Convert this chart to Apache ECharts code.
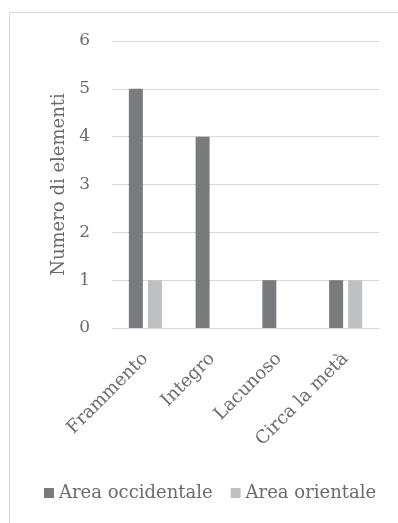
<!DOCTYPE html>
<html><head><meta charset="utf-8">
<script src="https://cdn.jsdelivr.net/npm/echarts@6/dist/echarts.min.js"></script>
<style>html,body{margin:0;padding:0;background:#fff}#c{width:398px;height:523px}</style>
</head><body><div id="c"></div>
<script>
var categories = ['Frammento', 'Integro', 'Lacunoso', 'Circa la metà'];
var seriesNames = ['Area occidentale', 'Area orientale'];
var occidentale = [5, 4, 1, 1];
var orientale = [1, 0, 0, 1];
var yTicks = [0, 1, 2, 3, 4, 5, 6];
var FONT = 'DejaVu Serif';
var TXT = '#6b6b6b';
var chart = echarts.init(document.getElementById('c'));
chart.setOption({
  animation: false,
  graphic: [{type: 'rect', shape: {x: 9.5, y: 12.5, width: 400, height: 520}, style: {fill: 'none', stroke: '#d9d9d9', lineWidth: 1}}],
  grid: {left: 112, right: 19, top: 41, bottom: 195},
  legend: {
    bottom: 16, left: 39, itemWidth: 10, itemHeight: 10, itemGap: 18,
    icon: 'rect',
    textStyle: {fontFamily: FONT, fontSize: 18, color: TXT},
    data: seriesNames
  },
  xAxis: {
    type: 'category', data: categories,
    axisLine: {lineStyle: {color: '#d9d9d9', width: 1}},
    axisTick: {show: false},
    axisLabel: {rotate: 45, fontFamily: FONT, fontSize: 18, color: TXT, margin: 28, interval: 0}
  },
  yAxis: {
    type: 'value', min: 0, max: 6, interval: 1,
    name: 'Numero di elementi', nameLocation: 'middle', nameGap: 42,
    nameTextStyle: {fontFamily: FONT, fontSize: 18, color: TXT},
    axisLine: {show: false}, axisTick: {show: false},
    splitLine: {lineStyle: {color: '#d9d9d9', width: 1}},
    axisLabel: {fontFamily: FONT, fontSize: 17, color: TXT, margin: 22,
      formatter: function (v) { return yTicks.indexOf(v) >= 0 ? String(v) : ''; }}
  },
  series: [
    {name: seriesNames[0], type: 'bar', data: occidentale, barWidth: 14, barGap: '36%', itemStyle: {color: '#7a7b7f'}},
    {name: seriesNames[1], type: 'bar', data: orientale, barWidth: 14, itemStyle: {color: '#bfc0c4'}}
  ]
});
</script></body></html>
